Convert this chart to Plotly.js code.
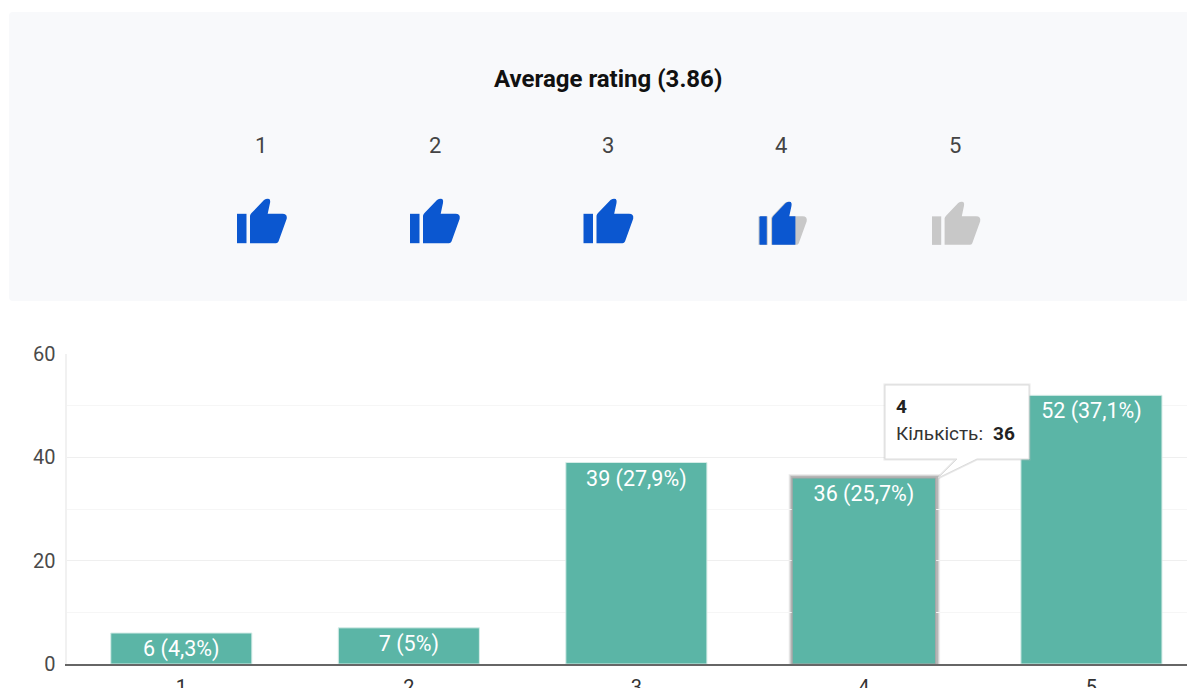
<!DOCTYPE html>
<html><head><meta charset="utf-8">
<script src="https://cdn.plot.ly/plotly-3.0.1.min.js"></script>
<style>html,body{margin:0;padding:0;background:#fff;overflow:hidden}#c{width:1187px;height:688px}</style>
</head><body><div id="c"></div>
<script>
const ratings = ['1','2','3','4','5'];
const counts = [6,7,39,36,52];
const barLabels = ['6 (4,3%)','7 (5%)','39 (27,9%)','36 (25,7%)','52 (37,1%)'];
const barWidths = [0.62,0.62,0.62,0.63,0.62];
const barEdges = ['#d5ece7','#d5ece7','#d5ece7','#a6a6a6','#d5ece7'];
const titleText = 'Average rating (3.86)';
const tooltipCategory = '4';
const tooltipLabel = 'Кількість:';
const tooltipValue = '36';

const W = 1187, H = 688;
const px = x => x / W, py = y => 1 - y / H;
const BLUE = '#0b57d0', GREY = '#c8c8c8', FONT = 'Roboto, Arial, sans-serif';

function pathOf(pts, ox, oy, s) {
  return pts.map((p, i) => {
    if (p.length === 4) return 'Q' + px(ox + p[0]*s) + ',' + py(oy + p[1]*s) + ' ' + px(ox + p[2]*s) + ',' + py(oy + p[3]*s);
    return (i ? 'L' : 'M') + px(ox + p[0]*s) + ',' + py(oy + p[1]*s);
  }).join(' ') + ' Z';
}
const stem = [[0,15.3],[9.5,15.3],[9.5,44.7],[0,44.7]];
const stemClip = [[1,15.3],[7.5,15.3],[7.5,44.7],[1,44.7],[0,44.7,0,43.7],[0,16.3],[0,15.3,1,15.3]];
const hand = [[13,17.3],[13.4,15.6,14.5,14.6],[27,1.6],[30,-0.6,32.3,0.6],[33.6,2,33,4.5],[30.7,15.3],[45.5,15.3],[50.5,15.3,49.7,20.3],[41.5,43],[40.7,44.7,39,44.7],[13,44.7]];
const handClip = [[13,17.3],[13.4,15.6,14.5,14.6],[27,1.6],[30,-0.6,32.3,0.6],[33.6,2,33,4.5],[30.7,15.3],[37,15.3],[37,44.7],[13,44.7]];
function icon(ptsList, ox, oy, s, col) {
  return ptsList.map(p => ({type:'path', xref:'paper', yref:'paper', path:pathOf(p, ox, oy, s), fillcolor:col, line:{width:0}, layer:'above'}));
}
const shapes = [];
shapes.push({type:'path', xref:'paper', yref:'paper', layer:'below', fillcolor:'#f8f9fb', line:{width:0},
  path:'M'+px(13)+','+py(12)+' L'+px(1187)+','+py(12)+' L'+px(1187)+','+py(301)+' L'+px(13)+','+py(301)+' Q'+px(9)+','+py(301)+' '+px(9)+','+py(297)+' L'+px(9)+','+py(16)+' Q'+px(9)+','+py(12)+' '+px(13)+','+py(12)+' Z'});
// soft hover glow round bar 4
const catX = x => (x - 181) / 227.6;
const valY = y => (664 - y) / (310 / 60);
[[4,'rgba(150,150,150,0.16)'],[3,'rgba(130,130,130,0.22)'],[2,'rgba(110,110,110,0.3)']].forEach(g => {
  shapes.push({type:'rect', xref:'x', yref:'y', layer:'below', line:{width:0}, fillcolor:g[1],
    x0:catX(792.5-g[0]), x1:catX(936+g[0]), y0:0, y1:valY(478-g[0])});
});
[237,410,583.5].forEach(x => shapes.push(...icon([stem,hand], x, 198.5, 1, BLUE)));
shapes.push(...icon([stem,hand], 758.5, 201.5, 0.97, GREY));
shapes.push(...icon([stemClip,handClip], 759.5, 201.5, 0.97, BLUE));
shapes.push(...icon([stem,hand], 932, 201.5, 0.97, GREY));
// tooltip callout
const tip = [[885,385],[1029,385],[1029,459],[977,459],[938,478],[957,459],[885,459]];
const tipPath = tip.map((p,i)=>(i?'L':'M')+px(p[0])+','+py(p[1])).join(' ')+' Z';
shapes.push({type:'path', xref:'paper', yref:'paper', layer:'above', fillcolor:'#ffffff', line:{color:'rgba(190,190,190,0.35)', width:3}, path:tipPath});
shapes.push({type:'path', xref:'paper', yref:'paper', layer:'above', fillcolor:'#ffffff', line:{color:'#dcdcdc', width:1}, path:tipPath});

const anns = [];
const note = (x,y,text,size,color,anchor) => anns.push({xref:'paper',yref:'paper',x:px(x),y:py(y),text,showarrow:false,
  font:{family:FONT,size,color},xanchor:anchor,yanchor:'middle',borderpad:0,borderwidth:0});
note(608,79,'<b>'+titleText+'</b>',24,'#111','center');
[261,435,608,781,955].forEach((x,i)=>note(x,146,ratings[i],22,'#444','center'));
note(896,406,'<b>'+tooltipCategory+'</b>',19,'#222','left');
note(896,433,tooltipLabel,19,'#333','left');
note(993,433,'<b>'+tooltipValue+'</b>',19,'#222','left');

const trace = {
  type:'bar', x:ratings, y:counts, text:barLabels, width:barWidths,
  textposition:'inside', insidetextanchor:'end', textangle:0, constraintext:'none',
  textfont:{family:FONT,size:21.5,color:'#ffffff'},
  marker:{color:'#5bb5a6', line:{color:barEdges, width:1}},
  hoverinfo:'skip', showlegend:false
};
const layout = {
  width:W, height:H, margin:{l:0,r:0,t:0,b:0,pad:0}, paper_bgcolor:'#fff', plot_bgcolor:'#fff',
  showlegend:false, shapes, annotations:anns,
  xaxis:{type:'category', domain:[px(66.5),1], range:[-0.5046,4.42], fixedrange:true, showgrid:false,
    showline:true, linecolor:'#666', linewidth:2, ticks:'', tickfont:{family:FONT,size:20,color:'#333'}, zeroline:false, automargin:false, ticklabelstandoff:4},
  yaxis:{domain:[py(664),py(354)], range:[0,60], tickvals:[0,20,40,60], ticks:'', showline:true, linecolor:'#f1f1f1', linewidth:2,
    gridcolor:'#efefef', gridwidth:1.5, zeroline:false, tickfont:{family:FONT,size:20,color:'#4a4a4a'}, automargin:false, ticklabelstandoff:5,
    minor:{dtick:10, showgrid:true, gridcolor:'#f6f6f6', gridwidth:1, ticks:''}}
};
Plotly.newPlot('c',[trace],layout,{displayModeBar:false,staticPlot:true});
</script></body></html>
